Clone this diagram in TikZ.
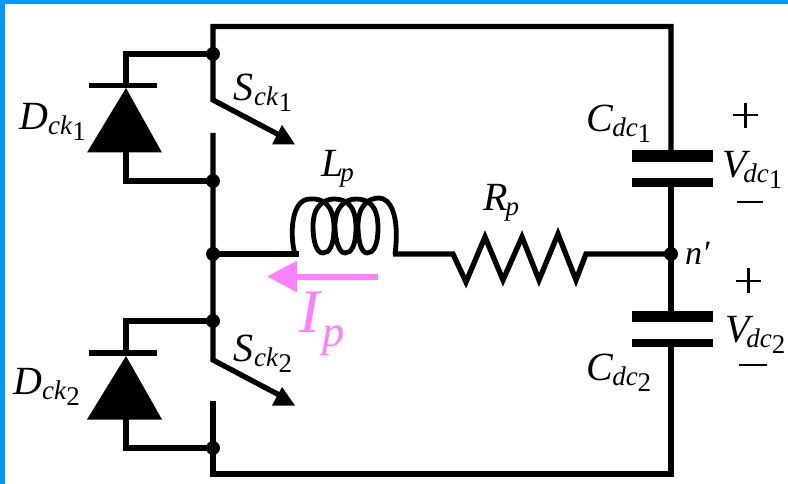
\documentclass[tikz,border=0pt]{standalone}
\usepackage{fontspec}
\setmainfont{Liberation Serif}
\usetikzlibrary{arrows.meta}
\newcommand{\lblA}[4][0pt]{\fontsize{40}{40}\selectfont\textit{#2}\hspace{#1}\raisebox{-5pt}{\fontsize{27}{27}\selectfont\textit{#3}}\raisebox{-11pt}{\fontsize{27}{27}\selectfont #4}}
\tikzset{
  wire/.style={line width=5.3pt,line join=miter},
  dot/.style={circle,fill=black,inner sep=0pt,minimum size=14pt},
  lab/.style={inner sep=0pt,anchor=base west},
  sym/.style={line width=2.8pt},
}
\definecolor{frameblue}{HTML}{0099FF}
\definecolor{pinkc}{HTML}{FF80FF}
\begin{document}
\begin{tikzpicture}[x=1pt,y=-1pt]
\useasboundingbox (0,0) rectangle (788,484);
\fill[white] (0,0) rectangle (788,484);
\fill[frameblue] (0,0) rectangle (788,4);
\fill[frameblue] (0,0) rectangle (5,484);
% junctions
\node[dot] (j1) at (213,54) {};
\node[dot] (j2) at (213,181) {};
\node[dot] (j3) at (213,254) {};
\node[dot] (j4) at (213,321) {};
\node[dot] (j5) at (213,448) {};
\node[dot] (n) at (671,254) {};
\coordinate (tl) at (213,26.5);
\coordinate (tr) at (671,26.5);
\coordinate (bl) at (213,474);
\coordinate (br) at (671,474);
\coordinate (s1a) at (213,100);
\coordinate (s1b) at (283,137);
\coordinate (c1) at (213,133);
\coordinate (s2a) at (213,360);
\coordinate (s2b) at (283,397);
\coordinate (c2) at (213,401);
% main loop
\draw[wire] (s1b) -- (s1a) -- (tl) -- (tr) -- (671,151);
\draw[wire] (671,182) -- (n.center) -- (671,316);
\draw[wire] (671,343) -- (br) -- (bl) -- (c2);
\draw[wire] (c1) -- (s2a) -- (s2b);
% switch tips
\fill (282,125) -- (272,144.5) -- (295,144.5) -- cycle;
\fill (282,387) -- (272,405.5) -- (295,405.5) -- cycle;
% diode 1
\draw[wire] (j1.center) -- (126,54) -- (126,88);
\draw[wire] (126,150) -- (126,181) -- (j2.center);
\draw[line width=5.5pt] (89,85.5) -- (157,85.5);
\fill (126,88) -- (87,152.5) -- (162,152.5) -- cycle;
% diode 2
\draw[wire] (j4.center) -- (126,321) -- (126,356);
\draw[wire] (126,417) -- (126,448) -- (j5.center);
\draw[line width=5.5pt] (89,353) -- (157,353);
\fill (126,356) -- (87,419.5) -- (162,419.5) -- cycle;
% inductor
\draw[wire] (j3.center) -- (299,254);
\draw[line width=4.8pt] (295,254)
  .. controls (290,238) and (290,199) .. (310,199)
  .. controls (322,198) and (334,204) .. (334,228)
  .. controls (334,246) and (329,253) .. (323,253)
  .. controls (316,253) and (313,240) .. (313,226)
  .. controls (313,205) and (325,199) .. (334,199)
  .. controls (346,199) and (356,205) .. (356,228)
  .. controls (356,246) and (351,253) .. (345,253)
  .. controls (339,253) and (335,240) .. (335,226)
  .. controls (335,205) and (347,199) .. (356,199)
  .. controls (368,199) and (378,205) .. (378,228)
  .. controls (378,246) and (373,253) .. (367,253)
  .. controls (361,253) and (358,240) .. (358,226)
  .. controls (358,205) and (369,198) .. (379,198)
  .. controls (390,198) and (400,215) .. (395,254);
\draw[wire] (393,254) -- (453,254) -- (466,282) -- (485,237) -- (503,280) -- (522,237) -- (539,280) -- (558,234) -- (576,280) -- (586,254) -- (n.center);
% capacitors
\fill (632,150) rectangle (713,162);
\fill (632,178) rectangle (713,187);
\fill (632,311) rectangle (713,322);
\fill (632,339) rectangle (713,347);
% polarity
\draw[sym] (733,115) -- (758,115) (745.5,103) -- (745.5,128);
\draw[sym] (737,202) -- (763,202);
\draw[sym] (736,281) -- (761,281) (748.5,268) -- (748.5,293);
\draw[sym] (739,365) -- (767,365);
% current arrow
\coordinate (ia) at (378,276.5);
\coordinate (ib) at (267,276.5);
\draw[pinkc,line width=6pt,-{Triangle[length=30pt,width=30pt]}] (ia) -- (ib);
\node[lab,text=pinkc] (ip) at (299,332) {\fontsize{62}{62}\selectfont\textit{I}\raisebox{-14pt}{\fontsize{44}{44}\selectfont\textit{p}}};
% labels
\node[lab] (d1) at (19,130) {\lblA{D}{ck}{1}};
\node[lab] (d2) at (13,394) {\lblA{D}{ck}{2}};
\node[lab] (s1) at (233,101) {\lblA[1pt]{S}{ck}{1}};
\node[lab] (s2) at (233,361) {\lblA[1pt]{S}{ck}{2}};
\node[lab] (lp) at (321,177) {\lblA[-3pt]{L}{p}{}};
\node[lab] (rp) at (483,211) {\lblA[-2pt]{R}{p}{}};
\node[lab] (cd1) at (586,132) {\lblA[-1pt]{C}{dc}{1}};
\node[lab] (cd2) at (586,380) {\lblA[-1pt]{C}{dc}{2}};
\node[lab] (vd1) at (722,178) {\lblA[-7pt]{V}{dc}{1}};
\node[lab] (vd2) at (725,342) {\lblA[-7pt]{V}{dc}{2}};
\node[lab] (np) at (685,265) {\fontsize{34}{34}\selectfont\textit{n′}};
\end{tikzpicture}
\end{document}
